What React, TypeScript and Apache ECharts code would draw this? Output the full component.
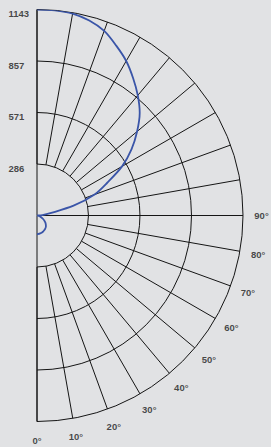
import React, { useEffect, useRef } from 'react';
import * as echarts from 'echarts';

// Gamma angles (0° = straight down, 180° = straight up), degrees
const ANGLES = [0, 5, 10, 15, 20, 25, 30, 35, 40, 45, 50, 55, 60, 65, 70, 75, 80, 85, 90,
  95, 100, 105, 110, 115, 120, 125, 130, 135, 140, 145, 150, 155, 160, 165, 170, 175, 180];
// Luminous intensity
const INTENSITY = [104, 103, 101, 99, 96, 92, 88, 83, 77, 69, 60, 50, 39, 29, 19, 11, 6, 2, 0,
  30, 75, 210, 340, 430, 545, 640, 725, 806, 870, 930, 990, 1040, 1090, 1120, 1138, 1143, 1143];

const RADIAL_TICKS = ['286', '571', '857', '1143'];
const ANGLE_TICK_VALUES = [0, 10, 20, 30, 40, 50, 60, 70, 80, 90];
const ANGLE_TICKS = ['0°', '10°', '20°', '30°', '40°', '50°', '60°', '70°', '80°', '90°'];

const R_MAX = 1143;
const R_STEP = 285.75;

const FONT = 'Liberation Sans, Arial, Helvetica, sans-serif';
const GRID = '#151515';
const TEXT = '#1c1c1c';
const CENTER = [37, 215.5];

export default function App() {
  const ref = useRef<HTMLDivElement>(null);
  useEffect(() => {
    const chart = echarts.init(ref.current!, null, { renderer: 'svg' });
    const hiddenAngle = (polarIndex: number, extra: object = {}) => ({
      polarIndex,
      type: 'value',
      min: 0,
      max: 180,
      startAngle: -90,
      endAngle: 90,
      clockwise: false,
      axisLine: { show: false },
      axisTick: { show: false },
      axisLabel: { show: false },
      splitLine: { show: false },
      ...extra,
    });
    chart.setOption({
      animation: false,
      backgroundColor: '#e1e2e4',
      polar: [
        { center: CENTER, radius: [51.5, 206] },
        { center: CENTER, radius: [0, 206] },
        { center: CENTER, radius: [0, 224.5] },
      ],
      angleAxis: [
        {
          polarIndex: 0,
          type: 'value',
          min: 0,
          max: 180,
          interval: 10,
          startAngle: -90,
          endAngle: 90,
          clockwise: false,
          axisLine: { show: false },
          axisTick: { show: false },
          axisLabel: { show: false },
          splitLine: { show: true, lineStyle: { color: GRID, width: 1 } },
        },
        hiddenAngle(1, {
          interval: 90,
          splitLine: { show: true, lineStyle: { color: GRID, width: 1 } },
        }),
        hiddenAngle(2, { interval: 90 }),
      ],
      radiusAxis: [
        {
          polarIndex: 0,
          type: 'value',
          min: R_STEP,
          max: R_MAX,
          interval: R_STEP,
          axisLine: { show: false },
          axisTick: { show: false },
          splitLine: { show: true, lineStyle: { color: GRID, width: 1 } },
          axisLabel: { show: false },
        },
        {
          polarIndex: 1,
          type: 'value',
          min: 0,
          max: R_MAX,
          interval: R_STEP,
          axisLine: { show: false },
          axisTick: { show: false },
          axisLabel: { show: false },
          splitLine: { show: false },
        },
        {
          polarIndex: 2,
          type: 'value',
          min: 0,
          max: 1,
          interval: 1,
          axisLine: { show: false },
          axisTick: { show: false },
          axisLabel: { show: false },
          splitLine: { show: false },
        },
      ],
      series: [
        {
          type: 'line',
          coordinateSystem: 'polar',
          polarIndex: 1,
          data: ANGLES.map((a, i) => [INTENSITY[i], a]),
          showSymbol: false,
          smooth: 0.3,
          lineStyle: { color: '#3a55a8', width: 1.8 },
          z: 10,
        },
        {
          // radial value labels along the upward (180°) spoke
          type: 'scatter',
          coordinateSystem: 'polar',
          polarIndex: 1,
          data: RADIAL_TICKS.map((_t, i) => [R_STEP * (i + 1), 180]),
          symbolSize: 1,
          itemStyle: { color: 'rgba(0,0,0,0)' },
          silent: true,
          label: {
            show: true,
            position: [-28, 0],
            align: 'left',
            verticalAlign: 'top',
            lineHeight: 9,
            formatter: (p: any) => RADIAL_TICKS[p.dataIndex],
            fontSize: 9.5,
            fontWeight: 'bold',
            fontFamily: FONT,
            color: TEXT,
          },
        },
        {
          // angle labels around the lower quadrant
          type: 'scatter',
          coordinateSystem: 'polar',
          polarIndex: 2,
          data: ANGLE_TICK_VALUES.map((a) => [1, a]),
          symbolSize: 1,
          itemStyle: { color: 'rgba(0,0,0,0)' },
          silent: true,
          label: {
            show: true,
            position: 'inside',
            align: 'center',
            verticalAlign: 'middle',
            formatter: (p: any) => ANGLE_TICKS[p.dataIndex],
            fontSize: 9.5,
            fontWeight: 'bold',
            fontFamily: FONT,
            color: TEXT,
          },
        },
      ],
    });
    return () => chart.dispose();
  }, []);
  return (
    <div
      ref={ref}
      style={{ position: 'fixed', left: 0, top: 0, width: 271, height: 447, background: '#e1e2e4' }}
    />
  );
}
